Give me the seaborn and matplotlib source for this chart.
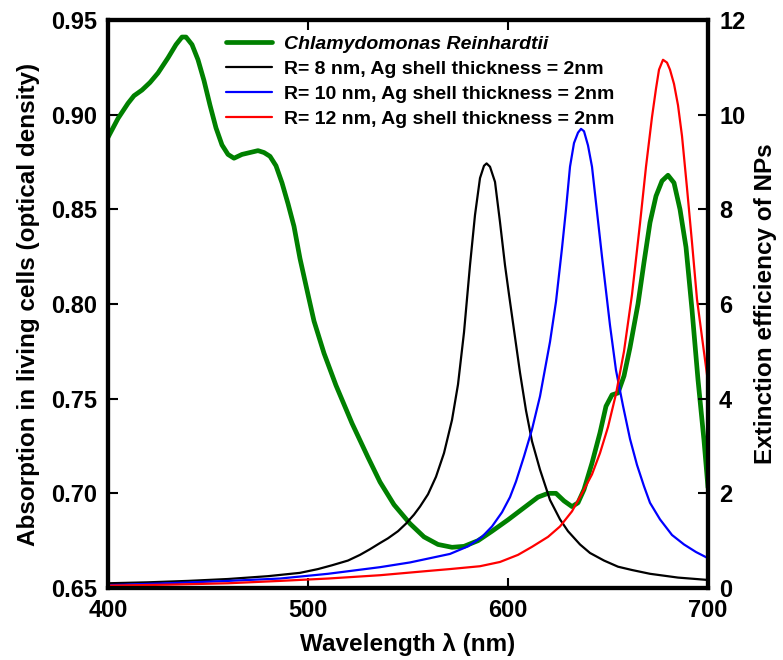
import numpy as np
import pandas as pd
import matplotlib
matplotlib.use("Agg")
import matplotlib.pyplot as plt
import seaborn as sns

# ---------------- data ----------------
green_x = [400, 405, 410, 413, 417, 421, 425, 430, 434, 437, 439, 442, 445, 448, 451, 454,
           457, 460, 463, 467, 471, 475, 478, 481, 484, 487, 490, 493, 496, 500, 503, 508,
           514, 522, 530, 536, 543, 551, 558, 565, 572, 578, 585, 592, 600, 605, 610, 615,
           620, 624, 628, 632, 635, 638, 642, 646, 649, 652, 655, 658, 661, 665, 668, 671,
           674, 677, 680, 683, 686, 689, 692, 695, 698, 700]
green_y = [0.888, 0.898, 0.906, 0.910, 0.913, 0.917, 0.922, 0.930, 0.937, 0.941, 0.941, 0.937,
           0.929, 0.918, 0.905, 0.893, 0.884, 0.879, 0.877, 0.879, 0.880, 0.881, 0.880, 0.878,
           0.873, 0.864, 0.853, 0.841, 0.824, 0.805, 0.791, 0.774, 0.757, 0.737, 0.719, 0.706,
           0.694, 0.684, 0.677, 0.673, 0.6715, 0.672, 0.675, 0.680, 0.686, 0.690, 0.694, 0.698,
           0.700, 0.700, 0.696, 0.693, 0.695, 0.702, 0.716, 0.732, 0.746, 0.752, 0.753, 0.762,
           0.777, 0.800, 0.822, 0.843, 0.857, 0.865, 0.868, 0.864, 0.850, 0.830, 0.797, 0.760,
           0.728, 0.703]

black_x = [400, 420, 440, 460, 480, 496, 505, 512, 520, 526, 531, 536, 540, 545, 549, 553,
           556, 560, 564, 568, 572, 575, 578, 581, 583.5, 586, 588, 589.3, 591, 593.5, 596,
           598.5, 600.5, 603, 606, 609, 612, 616, 621, 626, 630, 636, 641, 648, 655, 662,
           671, 685, 700]
black_y = [0.10, 0.12, 0.15, 0.19, 0.25, 0.32, 0.40, 0.48, 0.58, 0.70, 0.82, 0.95, 1.05,
           1.20, 1.36, 1.55, 1.72, 1.98, 2.35, 2.85, 3.55, 4.30, 5.40, 6.82, 7.88, 8.66,
           8.92, 8.97, 8.90, 8.58, 7.73, 6.82, 6.20, 5.45, 4.55, 3.75, 3.10, 2.50, 1.86,
           1.45, 1.20, 0.92, 0.74, 0.58, 0.45, 0.38, 0.30, 0.22, 0.17]

blue_x = [400, 430, 460, 486, 510, 536, 551, 561, 571, 580, 587, 592, 597, 601, 604, 608,
          612, 616, 621, 624, 627, 629, 631, 633, 635, 636.5, 638, 640, 642, 644.5, 647,
          651, 654, 657.5, 661, 664.5, 668, 671, 676, 682, 688, 694, 700]
blue_y = [0.06, 0.10, 0.15, 0.20, 0.30, 0.44, 0.54, 0.63, 0.72, 0.88, 1.08, 1.30, 1.60,
          1.92, 2.25, 2.78, 3.35, 4.05, 5.20, 6.05, 7.18, 8.00, 8.90, 9.40, 9.62, 9.70,
          9.65, 9.35, 8.90, 7.95, 7.00, 5.55, 4.60, 3.85, 3.15, 2.60, 2.15, 1.80, 1.45,
          1.12, 0.92, 0.76, 0.63]

red_x = [400, 430, 460, 486, 510, 536, 560, 571, 586, 596, 605, 612, 620, 626, 632, 637,
         642, 646, 650, 654, 658, 662, 666, 669, 672, 674, 675.5, 677.5, 679.5, 681, 683,
         685, 687, 689.5, 692, 694.5, 697, 700]
red_y = [0.05, 0.07, 0.10, 0.15, 0.20, 0.27, 0.36, 0.40, 0.46, 0.55, 0.70, 0.87, 1.08,
         1.30, 1.62, 2.00, 2.40, 2.85, 3.40, 4.10, 5.00, 6.20, 7.70, 8.90, 9.95, 10.55,
         10.95, 11.16, 11.10, 10.95, 10.65, 10.20, 9.55, 8.45, 7.30, 6.10, 5.30, 4.35]

labels = ["Chlamydomonas Reinhardtii",
          "R= 8 nm, Ag shell thickness = 2nm",
          "R= 10 nm, Ag shell thickness = 2nm",
          "R= 12 nm, Ag shell thickness = 2nm"]
colors = ["#008000", "black", "blue", "red"]

x_ticks = [400, 500, 600, 700]
left_ticks = [0.65, 0.70, 0.75, 0.80, 0.85, 0.90, 0.95]
right_ticks = [0, 2, 4, 6, 8, 10, 12]

# ---------------- styling ----------------
sns.set_style("white")
plt.rcParams['font.family'] = ['Liberation Sans', 'DejaVu Sans']
plt.rcParams['font.weight'] = 'bold'
plt.rcParams['text.color'] = 'black'
plt.rcParams['axes.labelcolor'] = 'black'
plt.rcParams['xtick.color'] = 'black'
plt.rcParams['ytick.color'] = 'black'

fig = plt.figure(figsize=(7.83, 6.60), dpi=100)
ax = fig.add_axes([108/783, 1 - 588/660, 600/783, 568/660])
ax2 = ax.twinx()

df_g = pd.DataFrame({"x": green_x, "y": green_y})
sns.lineplot(data=df_g, x="x", y="y", ax=ax, color=colors[0], linewidth=3.4,
             sort=False, estimator=None, legend=False,
             solid_joinstyle='round', solid_capstyle='round')

handles = [ax.lines[0]]
for xs, ys, c in [(black_x, black_y, colors[1]), (blue_x, blue_y, colors[2]), (red_x, red_y, colors[3])]:
    d = pd.DataFrame({"x": xs, "y": ys})
    sns.lineplot(data=d, x="x", y="y", ax=ax2, color=c, linewidth=1.6,
                 sort=False, estimator=None, legend=False,
                 solid_joinstyle='round', solid_capstyle='round')
    handles.append(ax2.lines[-1])

ax.set_xlim(400, 700)
ax.set_ylim(0.65, 0.95)
ax2.set_ylim(0, 12)
ax.set_xticks(x_ticks)
ax.set_yticks(left_ticks)
ax.set_yticklabels([f"{v:.2f}" for v in left_ticks])
ax2.set_yticks(right_ticks)
ax.set_xticklabels([str(v) for v in x_ticks])

for a in (ax, ax2):
    for s in a.spines.values():
        s.set_linewidth(3)
        s.set_color("black")

ax.tick_params(axis='x', which='both', direction='in', length=7, width=1.5,
               top=True, bottom=True, labelsize=17, pad=8, colors='black')
ax.tick_params(axis='y', direction='in', length=7, width=1.5, left=True, right=False,
               labelsize=17, pad=8, colors='black')
ax2.tick_params(axis='y', direction='in', length=7, width=1.5, right=True, left=False,
                labelsize=17, pad=8, colors='black')
for lab in ax.get_xticklabels() + ax.get_yticklabels() + ax2.get_yticklabels():
    lab.set_fontweight('bold')

ax.set_xlabel("Wavelength λ (nm)", fontsize=17.5, fontweight='bold', labelpad=8, color='black')
ax.set_ylabel("Absorption in living cells (optical density)", fontsize=17.5,
              fontweight='bold', labelpad=8, color='black')
ax2.set_ylabel("Extinction efficiency of NPs", fontsize=17.5, fontweight='bold',
               labelpad=6, color='black')

leg = ax2.legend(handles, labels, loc='upper left', bbox_to_anchor=(0.17, 1.0),
                 frameon=False, fontsize=14, handlelength=2.4, handletextpad=0.6,
                 labelspacing=0.38, borderpad=0.3)
for t in leg.get_texts():
    t.set_fontweight('bold')
    t.set_color('black')
leg.get_texts()[0].set_style('italic')

fig.savefig("out.png", dpi=100)
